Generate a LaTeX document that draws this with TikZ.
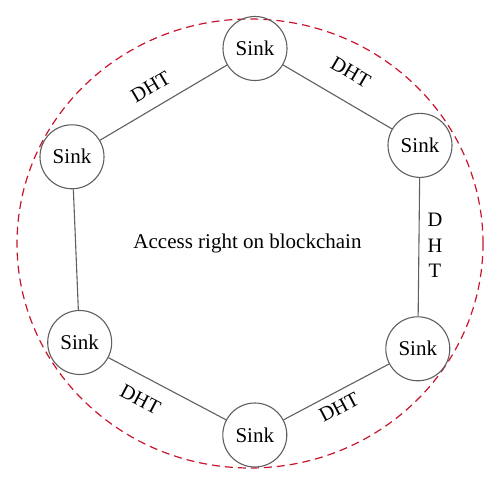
\documentclass[tikz,border=0pt]{standalone}
\usepackage{fontspec}
\setmainfont{Liberation Serif}
\definecolor{linegray}{RGB}{95,95,95}
\definecolor{ringred}{RGB}{200,20,45}
\begin{document}
\begin{tikzpicture}[x=1pt,y=1pt,
  sink/.style={circle, draw=linegray, line width=1.1pt, minimum size=64pt, inner sep=0pt, font=\fontsize{21}{24}\selectfont},
  link/.style={draw=linegray, line width=1.1pt},
  lbl/.style={font=\fontsize{20.5}{24}\selectfont, inner sep=0pt, sloped}]
\useasboundingbox (0,0) rectangle (500,486);
\draw[ringred, dash pattern=on 8pt off 5pt, line width=1.2pt] (250,242.5) ellipse [x radius=233, y radius=224.5];
\node[sink] (T)  at (255,437.5) {Sink};
\node[sink] (RT) at (420,340.6) {Sink};
\node[sink] (LT) at (72,329.2)  {Sink};
\node[sink] (LB) at (79.7,143.5) {Sink};
\node[sink] (RB) at (417.8,137.2) {Sink};
\node[sink] (B)  at (254.8,51)  {Sink};
\draw[link] (LT) -- node[lbl, pos=0.48, above=13pt] {DHT} (T);
\draw[link] (T) -- node[lbl, pos=0.49, above=21pt] {DHT} (RT);
\draw[link] (RT) -- (RB);
\draw[link] (LT) -- (LB);
\draw[link] (LB) -- node[lbl, pos=0.36, below=15pt] {DHT} (B);
\draw[link] (B) -- node[lbl, pos=0.46, below=7.5pt] {DHT} (RB);
\node[font=\fontsize{20.5}{25.5}\selectfont, align=center, inner sep=0pt] (vdht) at (435,240.3) {D\\H\\T};
\node[font=\fontsize{21}{25}\selectfont, anchor=base, inner sep=0pt] (ctr) at (247.5,237.5) {Access right on blockchain};
\end{tikzpicture}
\end{document}
